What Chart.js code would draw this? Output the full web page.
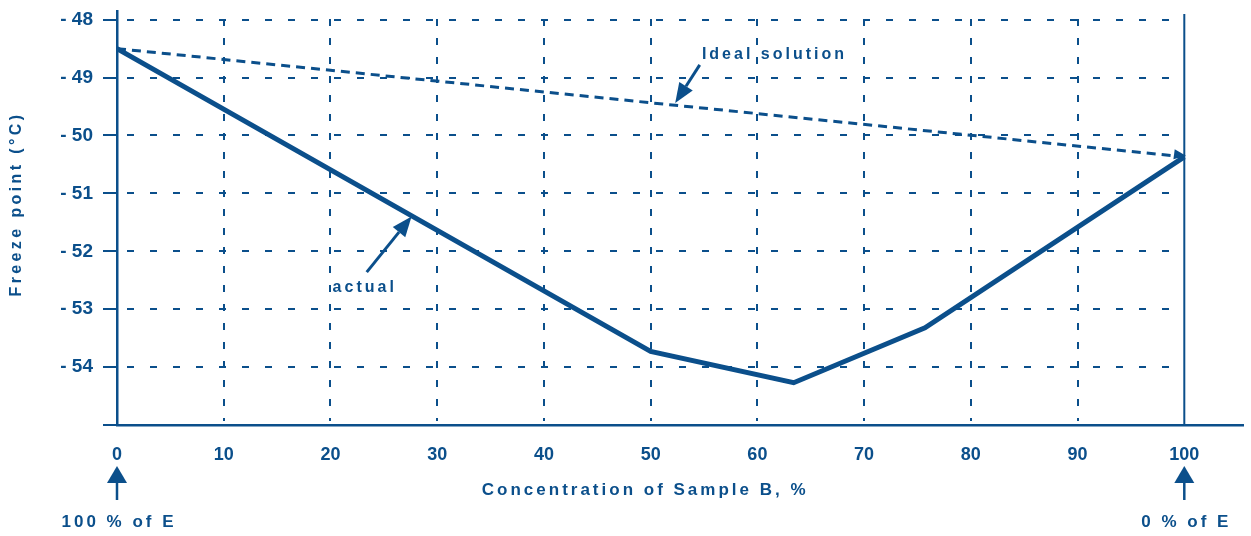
<!DOCTYPE html>
<html>
<head>
<meta charset="utf-8">
<script src="https://cdn.jsdelivr.net/npm/chart.js@4.4.0/dist/chart.umd.min.js"></script>
<style>
  html, body { margin: 0; padding: 0; background: #fff; }
  #wrap { width: 1251px; height: 536px; position: relative; }
</style>
</head>
<body>
<div id="wrap"><canvas id="chart" width="1251" height="536"></canvas></div>
<script>
// --- Data ---
const concActual = [0, 50, 63.4, 75.7, 100];
const freezeActual = [-48.5, -53.73, -54.27, -53.32, -50.37];
const concIdeal = [0, 100];
const freezeIdeal = [-48.5, -50.37];
const gridX = [10, 20, 30, 40, 50, 60, 70, 80, 90];
const gridY = [-48, -49, -50, -51, -52, -53, -54];

const BLUE = '#0b4f8b';
const FONT = "'Liberation Sans', Arial, sans-serif";

// dashed grid, limited to the 0..100 range, plus the solid 100% line
const gridPlugin = {
    id: 'grid',
    beforeDatasetsDraw(chart) {
        const { ctx, chartArea, scales } = chart;
        const x = scales.x, y = scales.y;
        const x0 = x.getPixelForValue(0), x100 = x.getPixelForValue(100);
        ctx.save();
        ctx.strokeStyle = BLUE;
        ctx.lineWidth = 2;
        ctx.setLineDash([7, 16]);
        gridY.forEach(v => {
            const py = Math.round(y.getPixelForValue(v));
            ctx.beginPath();
            ctx.moveTo(x0 + 10, py);
            ctx.lineTo(x100 - 4, py);
            ctx.stroke();
        });
        ctx.setLineDash([7, 12]);
        gridX.forEach(v => {
            const px = Math.round(x.getPixelForValue(v));
            ctx.beginPath();
            ctx.moveTo(px, chartArea.top + 8);
            ctx.lineTo(px, chartArea.bottom - 4);
            ctx.stroke();
        });
        ctx.setLineDash([]);
        ctx.beginPath();
        ctx.moveTo(x100, chartArea.top + 3);
        ctx.lineTo(x100, chartArea.bottom);
        ctx.stroke();
        ctx.restore();
    }
};

function arrow(ctx, x1, y1, x2, y2, head, half) {
    const a = Math.atan2(y2 - y1, x2 - x1);
    const bx = x2 - head * Math.cos(a), by = y2 - head * Math.sin(a);
    if (x1 !== null) {
        ctx.beginPath();
        ctx.moveTo(x1, y1);
        ctx.lineTo(bx, by);
        ctx.stroke();
    }
    ctx.beginPath();
    ctx.moveTo(x2, y2);
    ctx.lineTo(bx + half * Math.sin(a), by - half * Math.cos(a));
    ctx.lineTo(bx - half * Math.sin(a), by + half * Math.cos(a));
    ctx.closePath();
    ctx.fill();
}

// labels, arrows and axis titles
const notesPlugin = {
    id: 'notes',
    afterDraw(chart) {
        const { ctx, scales } = chart;
        const x = scales.x, y = scales.y;
        const X = v => x.getPixelForValue(v), Y = v => y.getPixelForValue(v);
        ctx.save();
        ctx.fillStyle = BLUE;
        ctx.strokeStyle = BLUE;
        ctx.lineWidth = 3;
        ctx.textBaseline = 'middle';

        // small head where the actual curve meets the 100% line
        const n = concActual.length;
        const ax = X(concActual[n - 2]), ay = Y(freezeActual[n - 2]);
        const ex = X(concActual[n - 1]), ey = Y(freezeActual[n - 1]);
        const a = Math.atan2(ey - ay, ex - ax);
        arrow(ctx, null, null, ex + 2 * Math.cos(a), ey + 2 * Math.sin(a), 12, 5);

        ctx.font = 'bold 16px ' + FONT;
        ctx.letterSpacing = '3px';
        ctx.textAlign = 'left';
        ctx.fillText('Ideal solution', X(54.8), Y(-48.6));
        ctx.fillText('actual', X(20.2), Y(-52.63));

        arrow(ctx, X(54.6), Y(-48.78), X(52.3), Y(-49.44), 20, 8);
        arrow(ctx, X(23.4), Y(-52.36), X(27.6), Y(-51.4), 20, 8);

        // x axis title
        ctx.font = 'bold 17px ' + FONT;
        ctx.letterSpacing = '3px';
        ctx.textAlign = 'center';
        ctx.fillText('Concentration of Sample B, %', X(49.3) + 2, 490);

        // end labels with up arrows
        ctx.font = 'bold 17px ' + FONT;
        ctx.letterSpacing = '3px';
        ctx.fillText('100 % of E', X(0) + 2, 522);
        ctx.fillText('0 % of E', X(100) + 2, 522);
        ctx.lineWidth = 2.5;
        [0, 100].forEach(v => arrow(ctx, X(v), 500, X(v), 466, 17, 10));

        // y axis title
        ctx.translate(17, 204);
        ctx.rotate(-Math.PI / 2);
        ctx.font = 'bold 16px ' + FONT;
        ctx.letterSpacing = '3.4px';
        ctx.fillText('Freeze point (°C)', 0, 0);
        ctx.restore();
    }
};

new Chart(document.getElementById('chart'), {
    type: 'line',
    data: {
        datasets: [
            {
                label: 'actual',
                data: concActual.map((c, i) => ({ x: c, y: freezeActual[i] })),
                borderColor: BLUE,
                borderWidth: 5,
                pointRadius: 0,
                tension: 0,
                fill: false
            },
            {
                label: 'Ideal solution',
                data: concIdeal.map((c, i) => ({ x: c, y: freezeIdeal[i] })),
                borderColor: BLUE,
                borderWidth: 3,
                borderDash: [9, 6],
                pointRadius: 0,
                fill: false
            }
        ]
    },
    options: {
        responsive: false,
        animation: false,
        events: [],
        layout: { padding: { top: 11, right: 8, left: 0, bottom: 0 } },
        plugins: { legend: { display: false }, tooltip: { enabled: false } },
        scales: {
            x: {
                type: 'linear',
                min: 0,
                max: 105.5,
                afterFit: s => { s.height = 111; s.paddingLeft = 0; s.paddingRight = 0; },
                border: { display: true, color: BLUE, width: 2.5 },
                grid: { display: false, drawTicks: false },
                ticks: {
                    stepSize: 10,
                    includeBounds: false,
                    padding: 19,
                    color: BLUE,
                    font: { family: FONT, size: 18, weight: 'bold' },
                    maxRotation: 0,
                    callback: v => (v <= 100 ? v : '')
                }
            },
            y: {
                min: -55,
                max: -47.85,
                afterFit: s => { s.width = 117; s.paddingTop = 0; s.paddingBottom = 0; },
                border: { display: true, color: BLUE, width: 2.5 },
                grid: { drawOnChartArea: false, drawTicks: true, tickLength: 14, color: BLUE, lineWidth: 2 },
                ticks: {
                    stepSize: 1,
                    includeBounds: false,
                    padding: 10,
                    color: BLUE,
                    font: { family: FONT, size: 19, weight: 'bold' },
                    callback: v => (v === -55 ? '' : '- ' + Math.abs(v))
                }
            }
        }
    },
    plugins: [gridPlugin, notesPlugin]
});
</script>
</body>
</html>
